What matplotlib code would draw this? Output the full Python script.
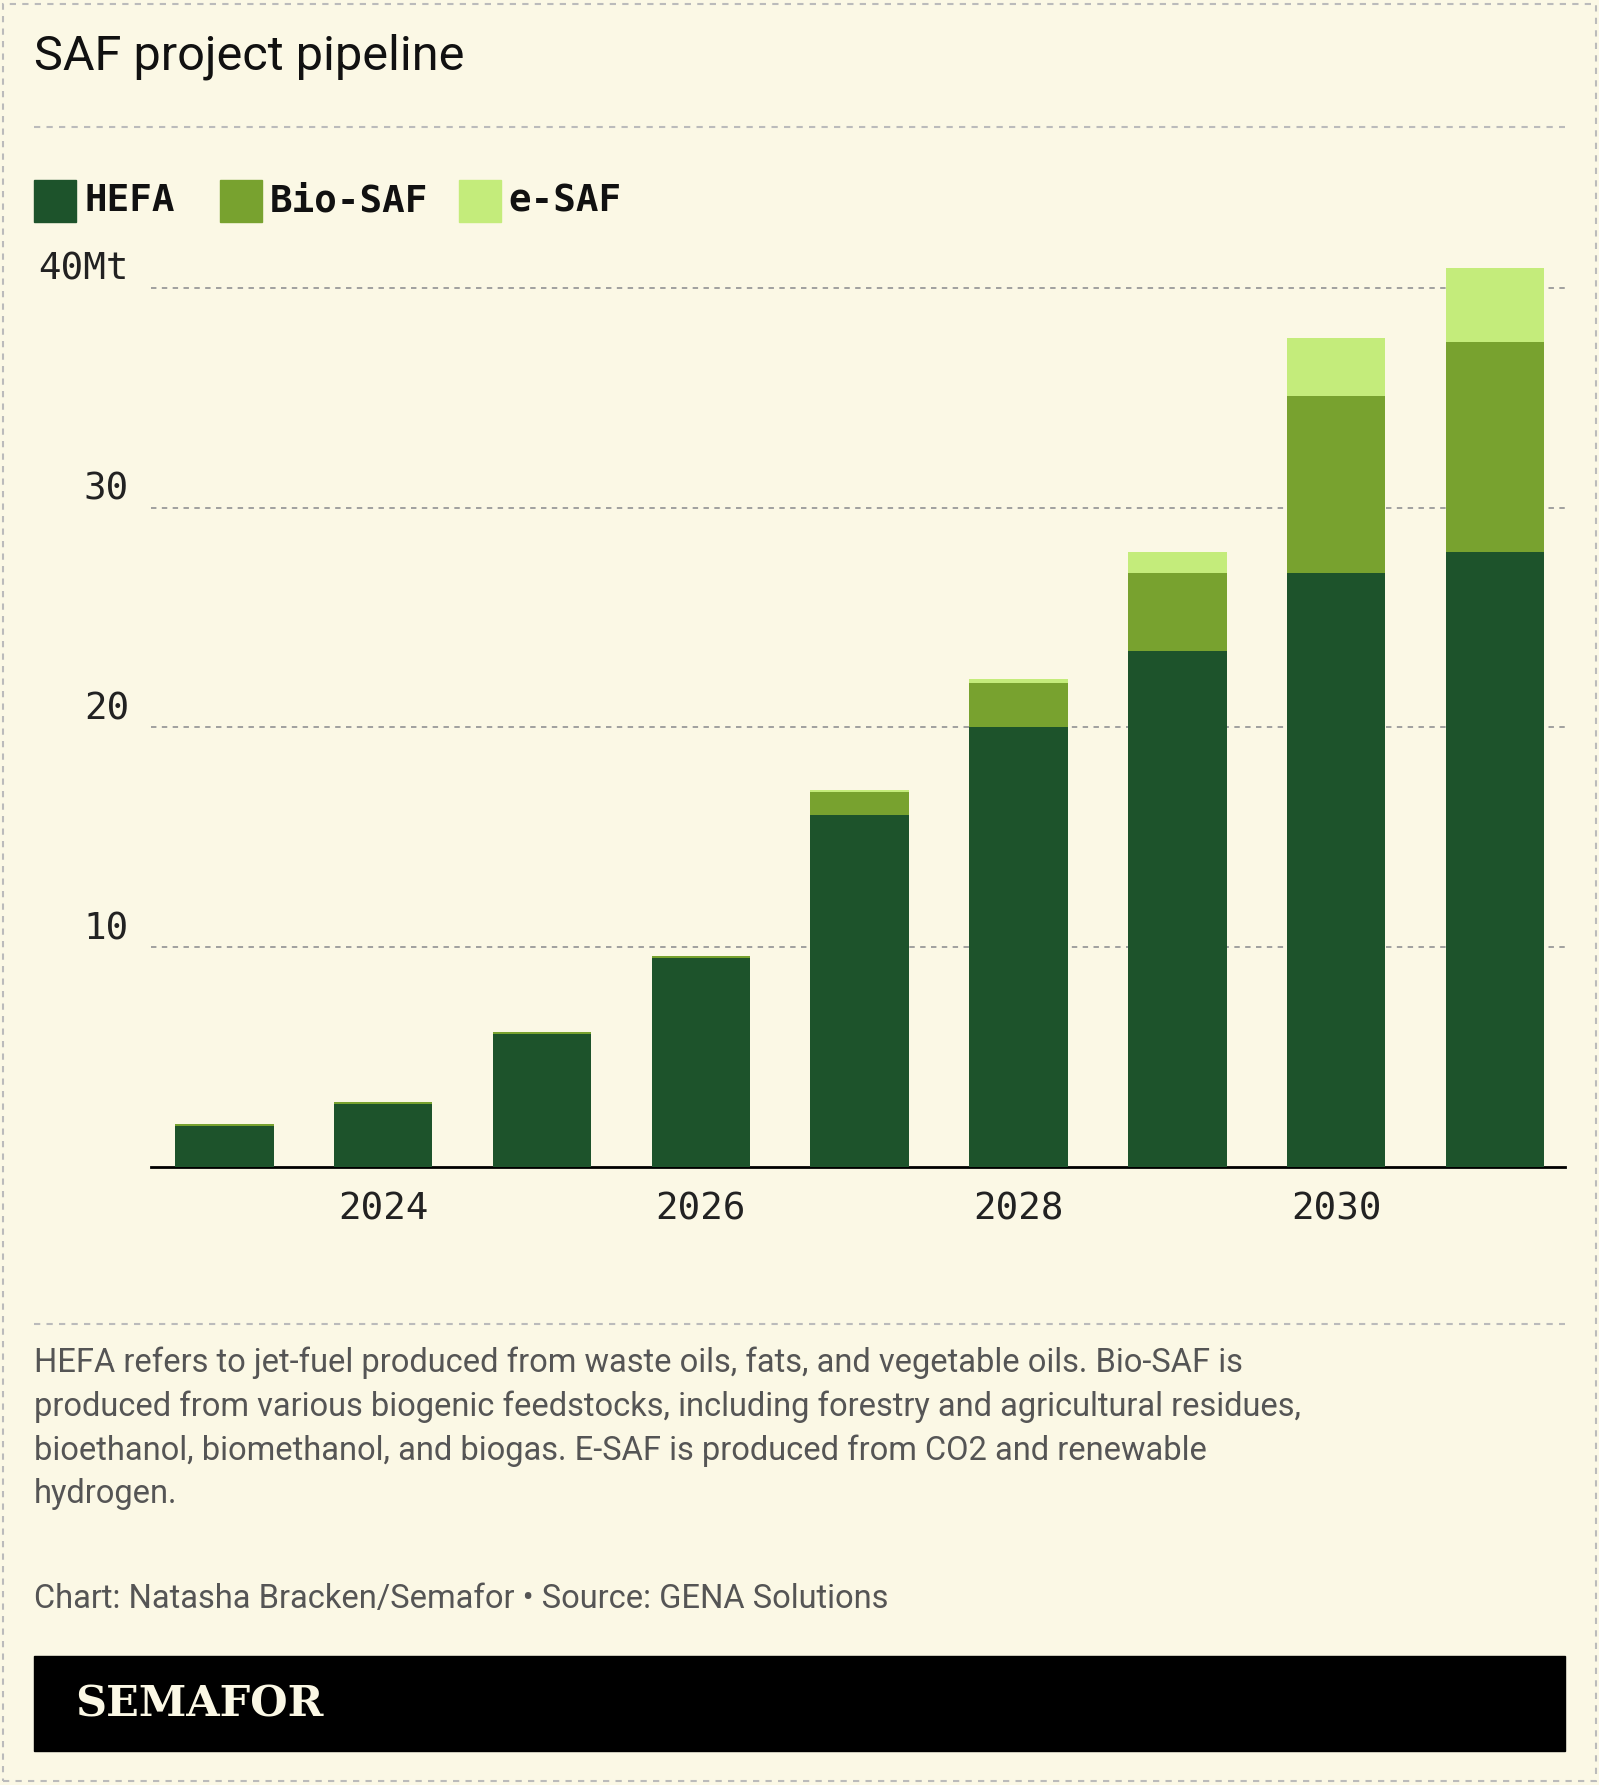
import matplotlib
matplotlib.use("Agg")
import matplotlib.pyplot as plt
from matplotlib.patches import Rectangle

years = [2023, 2024, 2025, 2026, 2027, 2028, 2029, 2030, 2031]
hefa = [1.85, 2.85, 6.05, 9.5, 16.0, 20.0, 23.5, 27.05, 28.0]
bio = [0.1, 0.1, 0.1, 0.1, 1.05, 2.0, 3.55, 8.05, 9.55]
esaf = [0.0, 0.0, 0.0, 0.0, 0.1, 0.2, 0.95, 2.6, 3.35]
series = ["HEFA", "Bio-SAF", "e-SAF"]
colors = ["#1d532b", "#78a22f", "#c4ec7b"]
yticks = [10, 20, 30, 40]
ytick_labels = ["10", "20", "30", "40Mt"]
xticks = [2024, 2026, 2028, 2030]

bg = "#fbf8e5"
W, H = 1405, 1568  # layout reference units

def fx(x): return x / W
def fy(y): return 1 - y / H

fig = plt.figure(figsize=(15.99, 17.85), dpi=100, facecolor=bg)
fig.patches.append(Rectangle((0.002, 0.002), 0.996, 0.996, transform=fig.transFigure,
                             fill=False, ec="#bbbbbb", ls=(0, (3, 3)), lw=1.5))

fig.text(fx(30), fy(50), "SAF project pipeline", fontsize=35, va="center", color="#111", family="Roboto")
for y in [112, 1163]:
    fig.add_artist(plt.Line2D([fx(30), fx(1375)], [fy(y), fy(y)], color="#bbb", ls=(0, (3, 3)), lw=1.5))

# legend
lx = [30, 193, 403]
for x, name, c in zip(lx, series, colors):
    fig.patches.append(Rectangle((fx(x), fy(195)), fx(37), 37 / H, transform=fig.transFigure, color=c))
    fig.text(fx(x + 44), fy(177), name, fontsize=27, fontweight="bold", va="center",
             family="DejaVu Sans Mono", color="#111")

ax = fig.add_axes([fx(133), fy(1025), fx(1375 - 133), (1025 - 224) / H])
ax.set_facecolor(bg)
b1 = [h + b for h, b in zip(hefa, bio)]
ax.bar(years, hefa, width=0.62, color=colors[0], zorder=3)
ax.bar(years, bio, bottom=hefa, width=0.62, color=colors[1], zorder=3)
ax.bar(years, esaf, bottom=b1, width=0.62, color=colors[2], zorder=3)
ax.set_xlim(2022.54, 2031.44)
ax.set_ylim(0, 41.5)
ax.set_yticks(yticks)
ax.set_yticklabels(ytick_labels)
ax.set_xticks(xticks)
ax.grid(axis="y", color="#999", ls=(0, (3, 3)), lw=1.3, zorder=0)
for s in ["top", "right", "left"]:
    ax.spines[s].set_visible(False)
ax.spines["bottom"].set_linewidth(2)
ax.tick_params(axis="both", length=0, labelsize=27, colors="#222", pad=18)
ax.tick_params(axis="y", pad=16)
for lab in ax.get_xticklabels() + ax.get_yticklabels():
    lab.set_family("DejaVu Sans Mono")
for lab in ax.get_yticklabels():
    lab.set_va("bottom")

note = ("HEFA refers to jet-fuel produced from waste oils, fats, and vegetable oils. Bio-SAF is\n"
        "produced from various biogenic feedstocks, including forestry and agricultural residues,\n"
        "bioethanol, biomethanol, and biogas. E-SAF is produced from CO2 and renewable\n"
        "hydrogen.")
fig.text(fx(30), fy(1183), note, fontsize=23.5, va="top", color="#555", family="Roboto", linespacing=1.45)
fig.text(fx(30), fy(1405), "Chart: Natasha Bracken/Semafor \u2022 Source: GENA Solutions",
         fontsize=23.5, va="center", color="#555", family="Roboto")

fig.patches.append(Rectangle((fx(30), fy(1538)), fx(1345), 83 / H, transform=fig.transFigure, color="black"))
fig.text(fx(66), fy(1497), "SEMAFOR", fontsize=31, fontweight="bold", va="center",
         color="#fbf8e5", family="DejaVu Serif")

fig.savefig("out.png", dpi=100, facecolor=bg)
